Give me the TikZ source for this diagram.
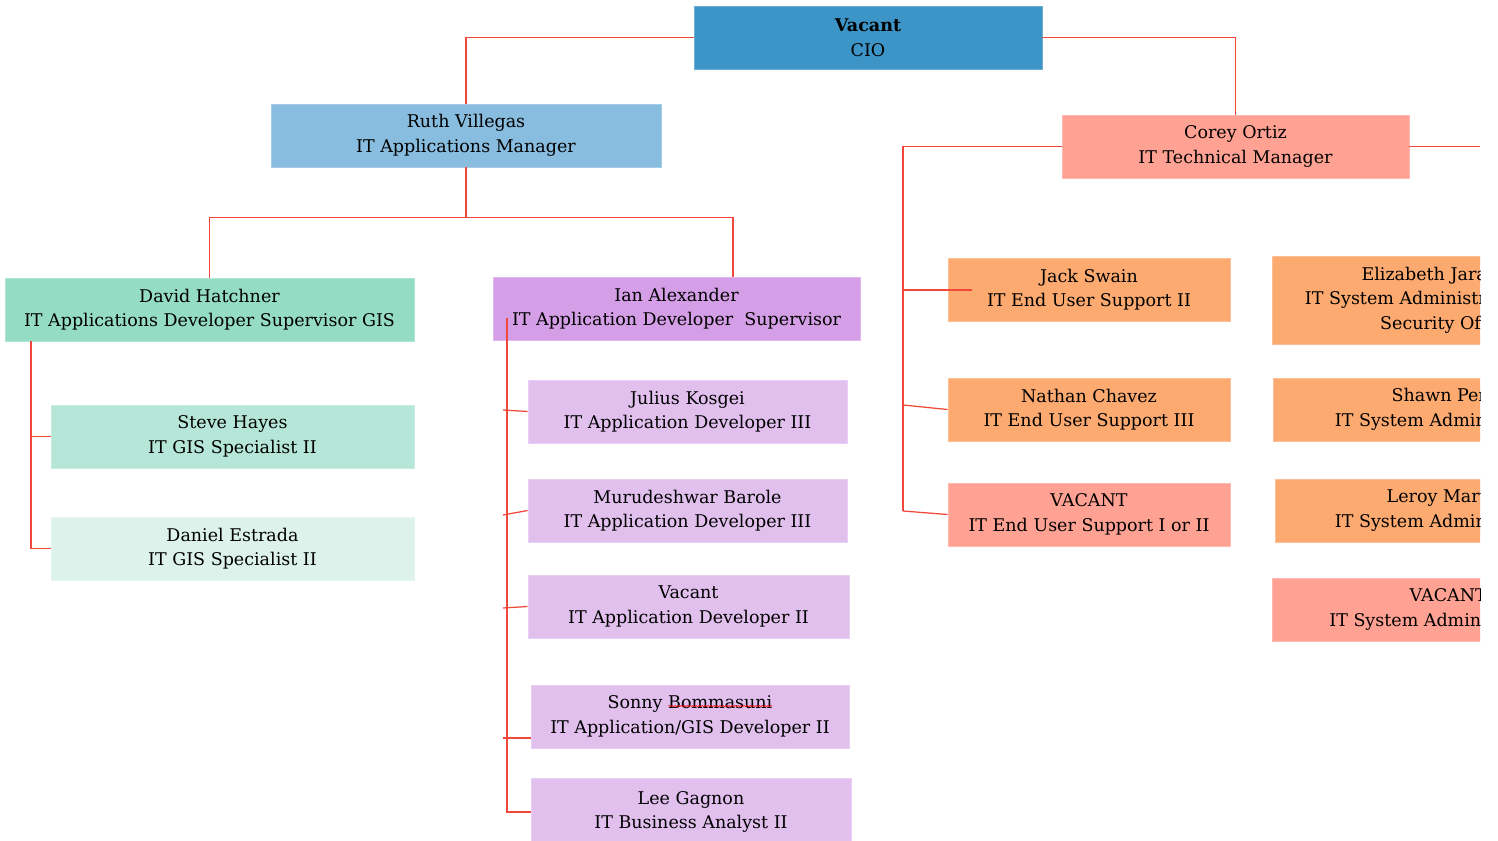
\documentclass[tikz,border=0pt]{standalone}
\usepackage{fontspec}
\setmainfont{DejaVu Serif}
\usetikzlibrary{decorations.pathmorphing}
\definecolor{cioblue}{HTML}{3C95C6}
\definecolor{ruthblue}{HTML}{88BDDF}
\definecolor{salmon}{HTML}{FFA293}
\definecolor{orangebox}{HTML}{FCAA70}
\definecolor{davidgreen}{HTML}{95DCC4}
\definecolor{stevegreen}{HTML}{B5E6D7}
\definecolor{danielgreen}{HTML}{DCF2EA}
\definecolor{ianpurple}{HTML}{D49FE6}
\definecolor{childpurple}{HTML}{E1C0EE}
\definecolor{linered}{HTML}{F0483A}
\tikzset{
  obox/.style={rectangle, inner sep=0pt, align=center, text=black,
    font=\fontsize{17.5}{24.5}\selectfont},
  otext/.style={inner sep=0pt, text=black, align=right, anchor=east,
    font=\fontsize{17.5}{24.5}\selectfont},
  conn/.style={draw=linered, line width=1.25pt}
}
\newcommand{\orgbox}[7]{\node[obox, fill=#6, draw=#6!75!white, line width=0.8pt,
  minimum width={(#4-#2)*1pt}, minimum height={(#5-#3)*1pt}]
  (#1) at ({(#2+#4)/2},{(#3+#5)/2}) {#7};}
\newcommand{\wavyword}[1]{\tikz[baseline=(ww.base)]{\node[inner sep=0pt, outer sep=0pt,
    minimum width=0pt, minimum height=0pt, fill=none, draw=none, align=left] (ww) {#1};
  \draw[overlay, red, fill=none, line width=0.5pt, decorate, decoration={snake, amplitude=0.8pt, segment length=3pt}]
  ([yshift=3pt]ww.south west) -- ([yshift=3pt]ww.south east);}}
\begin{document}
\begin{tikzpicture}[x=1pt,y=-1pt]
\useasboundingbox (0,0) rectangle (1498,840);
% top
\orgbox{cio}{694}{6}{1042}{69}{cioblue}{\textbf{Vacant}\\CIO}
\orgbox{ruth}{271}{104}{661}{167}{ruthblue}{Ruth Villegas\\IT Applications Manager}
% applications branch
\orgbox{david}{5}{278}{414}{341}{davidgreen}{David Hatchner\\IT Applications Developer Supervisor GIS}
\orgbox{ian}{493}{277}{860}{340}{ianpurple}{Ian Alexander\\IT Application Developer~ Supervisor}
\orgbox{steve}{51}{405}{414}{468}{stevegreen}{Steve Hayes\\IT GIS Specialist II}
\orgbox{daniel}{51}{517}{414}{580}{danielgreen}{Daniel Estrada\\IT GIS Specialist II}
\orgbox{julius}{528}{380}{847}{443}{childpurple}{Julius Kosgei\\IT Application Developer III}
\orgbox{muru}{528}{479}{847}{542}{childpurple}{Murudeshwar Barole\\IT Application Developer III}
\orgbox{vacdev}{528}{575}{849}{638}{childpurple}{Vacant\\IT Application Developer II}
\orgbox{sonny}{531}{685}{849}{748}{childpurple}{Sonny \wavyword{Bommasuni}\\IT Application/GIS Developer II}
\orgbox{lee}{531}{778}{851}{846}{childpurple}{Lee Gagnon\\IT Business Analyst II}
% technical branch
\orgbox{jack}{948}{258}{1230}{321}{orangebox}{Jack Swain\\IT End User Support II}
\orgbox{nathan}{948}{378}{1230}{441}{orangebox}{Nathan Chavez\\IT End User Support III}
\orgbox{vaceus}{948}{483}{1230}{546}{salmon}{VACANT\\IT End User Support I or II}
\begin{scope}
\clip (0,0) rectangle (1480,840);
\orgbox{corey}{1062}{115}{1409}{178}{salmon}{Corey Ortiz\\IT Technical Manager}
\orgbox{eliz}{1272}{256}{1580}{344}{orangebox}{}
\node[otext] (eliztext) at (1487,300) {Elizabeth Jara\\IT System Administr\\Security Off};
\orgbox{shawn}{1273}{378}{1580}{441}{orangebox}{}
\node[otext] (shawntext) at (1487,409.5) {Shawn Per\\IT System Admin};
\orgbox{leroy}{1275}{479}{1580}{542}{orangebox}{}
\node[otext] (leroytext) at (1487,510.5) {Leroy Mart\\IT System Admin};
\orgbox{vacsys}{1272}{578}{1580}{641}{salmon}{}
\node[otext] (vacsystext) at (1487,609.5) {VACANT\\IT System Admini};
\coordinate (coreyout) at (1480,146.5);
\draw[conn] (corey.east) -- (coreyout);
\end{scope}
% connectors: CIO
\draw[conn] (cio.west) -| (ruth.north);
\draw[conn] (cio.east) -| (corey.north);
% Ruth to supervisors
\coordinate (ianin) at (733,277);
\draw[conn] (ruth.south) -- ++(0,50) coordinate (rj) -| (david.north);
\draw[conn] (rj) -| (ianin);
% David trunk
\coordinate (dtop) at (31,341);
\draw[conn] (dtop) |- (steve.west);
\draw[conn] (dtop) |- (daniel.west);
% Ian trunk
\coordinate (itop) at (507,318);
\coordinate (ij) at (503,410);
\coordinate (im) at (503,515);
\coordinate (iv) at (503,608);
\coordinate (is) at (503,738);
\draw[conn] (itop) |- (lee.west);
\draw[conn] (ij) -- (julius.west);
\draw[conn] (im) -- (muru.west);
\draw[conn] (iv) -- (vacdev.west);
\draw[conn] (is) -- (is -| sonny.west);
% Corey trunk
\coordinate (ctrunk) at (903,511);
\coordinate (cj) at (903,290);
\coordinate (jackin) at (972,290);
\coordinate (cn) at (903,405);
\draw[conn] (corey.west) -| (ctrunk);
\draw[conn] (cj) -- (jackin);
\draw[conn] (cn) -- (nathan.west);
\draw[conn] (ctrunk) -- (vaceus.west);
\end{tikzpicture}
\end{document}
